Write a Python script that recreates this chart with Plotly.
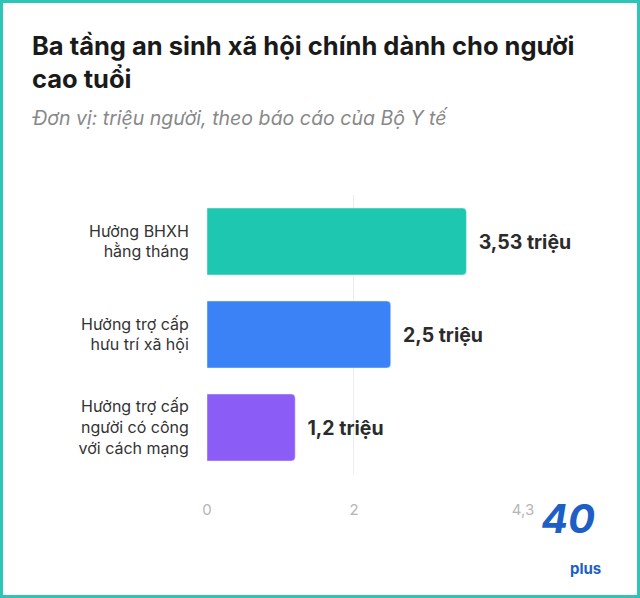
import plotly.graph_objects as go

categories = ['Hưởng BHXH<br>hằng tháng', 'Hưởng trợ cấp<br>hưu trí xã hội', 'Hưởng trợ cấp<br>người có công<br>với cách mạng']
values = [3.53, 2.5, 1.2]
value_labels = ['3,53 triệu', '2,5 triệu', '1,2 triệu']
colors = ['#1ec8b0', '#3b82f6', '#8b5cf6']
tick_vals = [0, 2, 4.3]
tick_text = ['0', '2', '4,3']

W, H = 640, 598
ml, mr, mt, mb = 207, 117, 195, 124
pw, ph = W - ml - mr, H - mt - mb

fig = go.Figure(go.Bar(
    x=values, y=categories, orientation='h',
    marker=dict(color=colors, cornerradius=4),
    text=['  ' + t for t in value_labels], textposition='outside',
    textfont=dict(size=19.5, color='#2b2b2b', family='Inter', weight='bold'),
    cliponaxis=False, width=0.72,
))

fig.update_layout(
    width=W, height=H,
    margin=dict(l=ml, r=mr, t=mt, b=mb),
    paper_bgcolor='white', plot_bgcolor='white',
    font=dict(family='Inter'),
    showlegend=False,
    xaxis=dict(range=[0, 4.3], tickvals=tick_vals, ticktext=tick_text,
               showgrid=True, gridcolor='#ececec', zeroline=False,
               tickfont=dict(size=15, color='#b5b5b5'),
               ticks='outside', ticklen=22, tickcolor='white', fixedrange=True),
    yaxis=dict(autorange='reversed', tickfont=dict(size=16, color='#333'),
               ticks='outside', ticklen=14, tickcolor='white'),
    annotations=[
        dict(text='<b>Ba tầng an sinh xã hội chính dành cho người<br>cao tuổi</b>',
             xref='paper', yref='paper', x=-(ml - 30) / pw, y=1 + (mt - 28) / ph,
             xanchor='left', yanchor='top', align='left', showarrow=False,
             font=dict(size=25.5, color='#1a1a1a')),
        dict(text='<i>Đơn vị: triệu người, theo báo cáo của Bộ Y tế</i>',
             xref='paper', yref='paper', x=-(ml - 30) / pw, y=1 + (mt - 104) / ph,
             xanchor='left', yanchor='top', align='left', showarrow=False,
             font=dict(size=19.5, color='#888')),
        dict(text='<b><i>40</i></b>', xref='paper', yref='paper',
             x=(598 - ml) / pw, y=-(545 - mt - ph) / ph, showarrow=False,
             font=dict(size=40, color='#1d5fc4')),
        dict(text='<b>plus</b>', xref='paper', yref='paper',
             x=(603 - ml) / pw, y=-(580 - mt - ph) / ph, showarrow=False,
             font=dict(size=15, color='#1d5fc4')),
    ],
    shapes=[dict(type='rect', xref='paper', yref='paper',
                 x0=-(ml - 1.5) / pw, x1=(W - ml - 1.5) / pw,
                 y0=-(mb - 1.5) / ph, y1=1 + (mt - 1.5) / ph,
                 line=dict(color='#2ec4b6', width=3))],
)

fig.write_html('out.html', config={'displayModeBar': False},
               post_script="document.body.style.margin='0';document.body.style.overflow='hidden';")
